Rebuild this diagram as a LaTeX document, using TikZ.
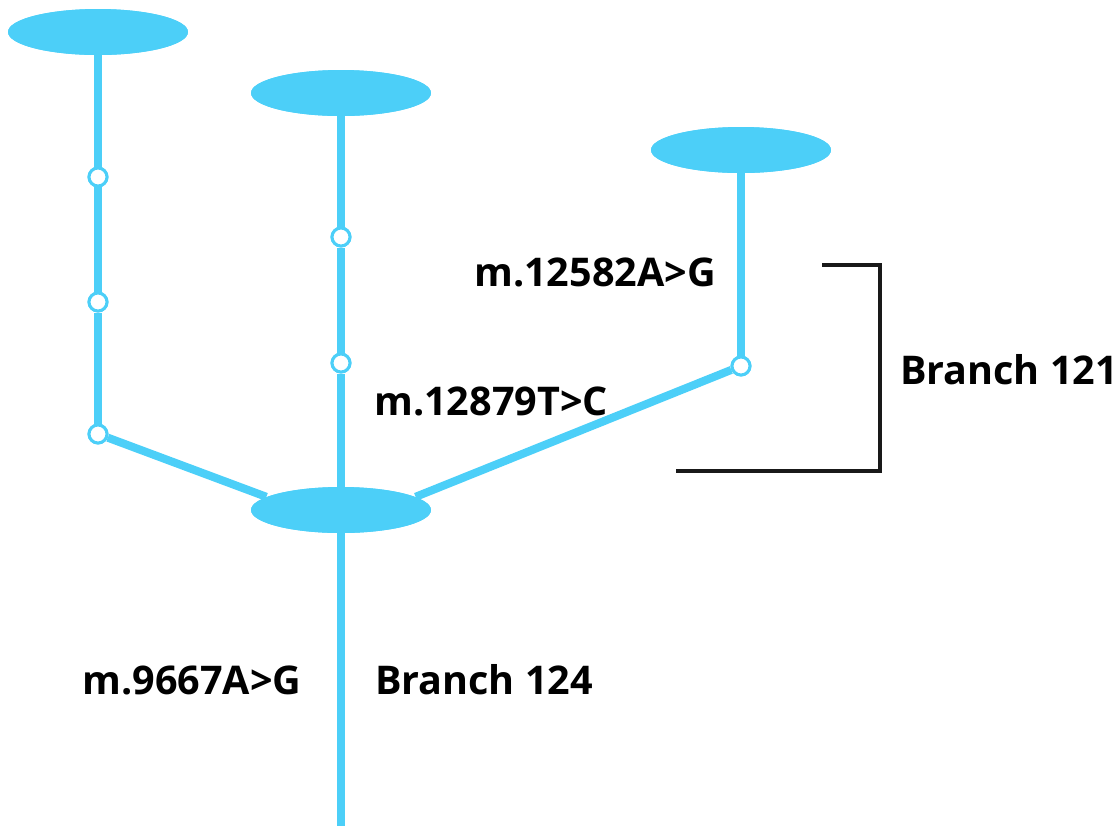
\documentclass[tikz,border=0pt]{standalone}
\usepackage{fontspec}
\setmainfont{Open Sans}
\usetikzlibrary{positioning, calc, shapes.geometric}
\definecolor{treeblue}{HTML}{4CCFF8}
\tikzset{
  hap/.style     = {ellipse, fill=treeblue, draw=none, minimum width=3.6cm, minimum height=0.92cm, inner sep=0pt},
  site/.style    = {circle, fill=white, draw=treeblue, line width=1.7pt, minimum size=0.36cm, inner sep=0pt},
  branch/.style  = {line width=4.6pt, draw=treeblue},
  mutlabel/.style = {font=\fontsize{22.5}{26}\selectfont\bfseries, inner sep=0pt},
  bracket/.style = {line width=2.8pt, draw=black!90},
}
\begin{document}
\begin{tikzpicture}[x=0.02cm, y=-0.02cm]
\useasboundingbox (0,0) rectangle (1117,826);

% Haplogroup ellipses
\node (h1) [hap] at (98,32)   {};
\node (h2) [hap] at (341,93)  {};
\node (h3) [hap] at (741,150) {};
\node (h0) [hap] at (341,510) {};
\coordinate (root) at (341,826);

% Mutation sites
\node (a1) [site] at (98,177)  {};
\node (a2) [site] at (98,302)  {};
\node (a3) [site] at (98,434)  {};
\node (b1) [site] at (341,237) {};
\node (b2) [site] at (341,363) {};
\node (c1) [site] at (741,366) {};

% Branches
\draw [branch] (h1.center) -- (a1) -- (a2) -- (a3);
\draw [branch] (a3) -- (h0.170);
\draw [branch] (h2.center) -- (b1) -- (b2) -- (h0.center);
\draw [branch] (h0.center) -- (root);
\draw [branch] (h3.center) -- (c1);
\draw [branch] (c1) -- (h0.10);
% redraw nodes on top of the lines
\foreach \h in {h1,h2,h3,h0} \node [hap] at (\h) {};
\foreach \s in {a1,a2,a3,b1,b2,c1} \node [site] at (\s) {};

% Labels
\node (m1) [mutlabel] at (595,272) {m.12582A>G};
\node (m2) [mutlabel] at (491,401) {m.12879T>C};
\node (m3) [mutlabel] at (192,680) {m.9667A>G};
\node (l1) [mutlabel] at (484,680) {Branch 124};
\node (l2) [mutlabel] at (1009,370) {Branch 121};

% Bracket for branch 121
\coordinate (bt) at (822,265);
\coordinate (bb) at (676,471);
\draw [bracket] (bt) -| (880,471) -- (bb);

\end{tikzpicture}
\end{document}
